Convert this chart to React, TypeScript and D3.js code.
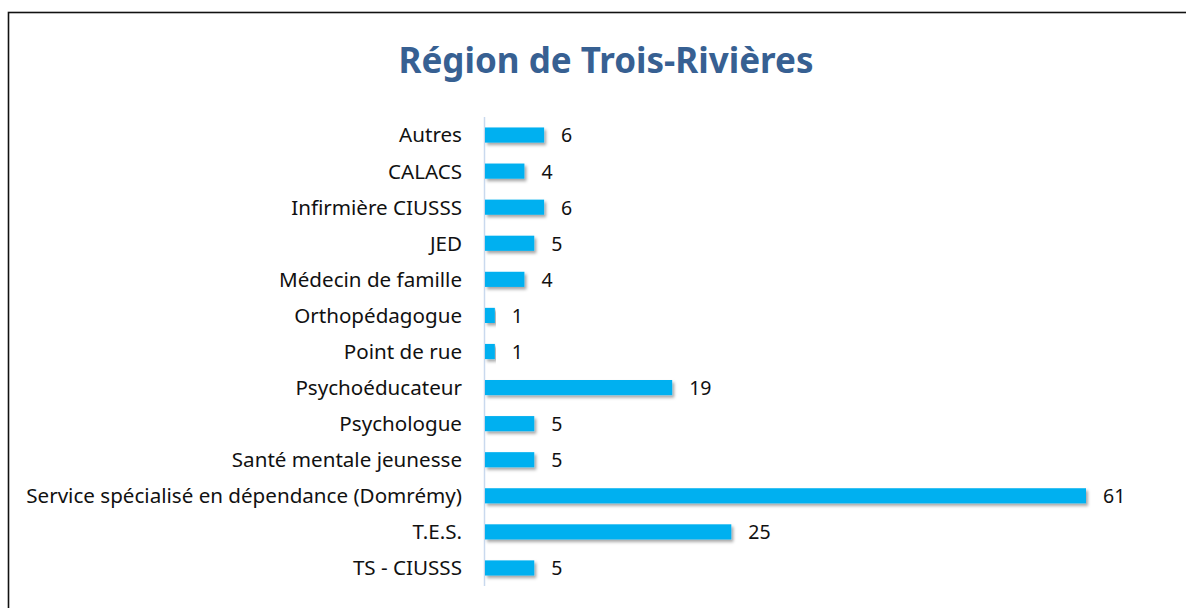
import { useEffect, useRef } from "react";
import * as d3 from "d3";

const W = 1186;
const H = 608;

const CATEGORIES = [
  "Autres",
  "CALACS",
  "Infirmière CIUSSS",
  "JED",
  "Médecin de famille",
  "Orthopédagogue",
  "Point de rue",
  "Psychoéducateur",
  "Psychologue",
  "Santé mentale jeunesse",
  "Service spécialisé en dépendance (Domrémy)",
  "T.E.S.",
  "TS - CIUSSS",
];
const VALUES = [6, 4, 6, 5, 4, 1, 1, 19, 5, 5, 61, 25, 5];
const TITLE = "Région de Trois-Rivières";

const FONT = "'Noto Sans', 'Open Sans', sans-serif";

export default function App() {
  const svgRef = useRef<SVGSVGElement>(null);

  useEffect(() => {
    if (!svgRef.current) return;
    const svg = d3.select(svgRef.current);
    svg.selectAll("*").remove();

    // drop shadow for bars
    const defs = svg.append("defs");
    const f = defs.append("filter").attr("id", "bar-shadow")
      .attr("x", "-5%").attr("y", "-30%").attr("width", "115%").attr("height", "190%");
    f.append("feDropShadow")
      .attr("dx", 2).attr("dy", 2.5).attr("stdDeviation", 1.6)
      .attr("flood-color", "#000").attr("flood-opacity", 0.35);

    // frame (only top/left visible in the crop)
    svg.append("rect")
      .attr("x", 8.5).attr("y", 12.5)
      .attr("width", W + 20).attr("height", H + 20)
      .attr("fill", "#fff").attr("stroke", "#111").attr("stroke-width", 1.6);

    svg.append("text")
      .attr("x", 606).attr("y", 73)
      .attr("text-anchor", "middle")
      .attr("font-family", FONT)
      .attr("font-weight", "bold")
      .attr("font-size", "35px")
      .attr("fill", "#376092")
      .text(TITLE);

    const x = d3.scaleLinear().domain([0, 61]).range([485, 1086]);
    const y = d3.scaleBand<string>()
      .domain(CATEGORIES)
      .range([117, 586])
      .paddingInner(0.58)
      .paddingOuter(0.29);

    const g = svg.append("g");

    // category axis line
    g.append("line")
      .attr("x1", 484.5).attr("x2", 484.5)
      .attr("y1", 117).attr("y2", 586)
      .attr("stroke", "#c9d9ee").attr("stroke-width", 1.5);

    g.selectAll("rect.bar")
      .data(VALUES)
      .join("rect")
      .attr("class", "bar")
      .attr("x", x(0))
      .attr("y", (_, i) => y(CATEGORIES[i])!)
      .attr("width", d => x(d) - x(0))
      .attr("height", y.bandwidth())
      .attr("fill", "#00b0f0")
      .attr("filter", "url(#bar-shadow)");

    g.selectAll("text.val")
      .data(VALUES)
      .join("text")
      .attr("class", "val")
      .attr("x", d => x(d) + 17)
      .attr("y", (_, i) => y(CATEGORIES[i])! + y.bandwidth() / 2)
      .attr("dy", "0.38em")
      .attr("font-family", FONT)
      .attr("font-size", "19.5px")
      .attr("fill", "#111")
      .text(d => String(d));

    g.selectAll("text.cat")
      .data(CATEGORIES)
      .join("text")
      .attr("class", "cat")
      .attr("x", 462)
      .attr("y", d => y(d)! + y.bandwidth() / 2)
      .attr("dy", "0.36em")
      .attr("text-anchor", "end")
      .attr("font-family", FONT)
      .attr("font-size", "20.6px")
      .attr("fill", "#111")
      .text(d => d);
  }, []);

  return (
    <svg
      ref={svgRef}
      width={W}
      height={H}
      style={{ position: "fixed", left: 0, top: 0, display: "block", background: "#fff" }}
    />
  );
}
